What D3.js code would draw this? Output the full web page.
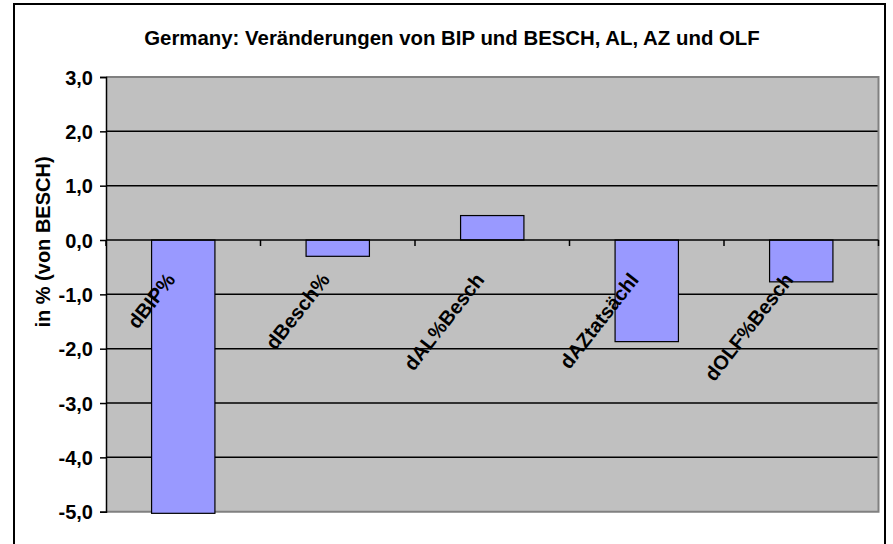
<!DOCTYPE html>
<html>
<head>
<meta charset="utf-8">
<script src="https://cdn.jsdelivr.net/npm/d3@7/dist/d3.min.js"></script>
<style>
  body { margin: 0; background: #fff; }
  svg text { font-family: Arial, "Liberation Sans", sans-serif; font-weight: bold; fill: #000; }
</style>
</head>
<body>
<div id="root"></div>
<script>
// data
const categories = ["dBIP%", "dBesch%", "dAL%Besch", "dAZtatsächl", "dOLF%Besch"]
const values = [-5.03, -0.30, 0.45, -1.87, -0.77]
const yTicks = [3, 2, 1, 0, -1, -2, -3, -4, -5]
const title = "Germany: Veränderungen von BIP und BESCH, AL, AZ und OLF"
const yTitle = "in % (von BESCH)"

const w = 893, h = 544
const plot = {left: 106, right: 878.5, top: 77, bottom: 511.7}

const svg = d3.select("#root").append("svg")
    .attr("width", w)
    .attr("height", h)

// outer chart frame
svg.append("rect")
    .attr("x", 14).attr("y", 4)
    .attr("width", 871).attr("height", 600)
    .attr("fill", "#fff")
    .attr("stroke", "#000")
    .attr("stroke-width", 2)

//scales
const x = d3.scaleBand()
    .domain(categories)
    .range([plot.left, plot.right])

const y = d3.scaleLinear()
    .domain([-5, 3])
    .range([plot.bottom, plot.top])

// plot area
svg.append("rect")
    .attr("x", plot.left).attr("y", plot.top)
    .attr("width", plot.right - plot.left)
    .attr("height", plot.bottom - plot.top)
    .attr("fill", "#c0c0c0")

// gridlines
svg.append("g").selectAll("line")
    .data(yTicks.filter(d => d !== 3 && d !== -5 && d !== 0))
    .enter().append("line")
    .attr("x1", plot.left).attr("x2", plot.right)
    .attr("y1", d => y(d)).attr("y2", d => y(d))
    .attr("stroke", "#000")
    .attr("stroke-width", 1.5)

// plot border (gray)
svg.append("path")
    .attr("d", `M${plot.left},${plot.top}H${plot.right}V${plot.bottom}H${plot.left}`)
    .attr("fill", "none")
    .attr("stroke", "#808080")
    .attr("stroke-width", 2)

// y axis
const yAxis = svg.append("g")
    .attr("transform", `translate(${plot.left},0)`)
    .call(d3.axisLeft(y)
        .tickValues(yTicks)
        .tickSize(6)
        .tickPadding(7)
        .tickFormat(d => d3.format(".1f")(d).replace(".", ",").replace("−", "-")))
yAxis.select(".domain").attr("stroke", "#000").attr("stroke-width", 1.5)
yAxis.selectAll(".tick line").attr("stroke", "#000").attr("stroke-width", 1.5)
yAxis.selectAll(".tick text")
    .attr("font-size", 20)
    .attr("dy", "0.36em")

// bars
const barW = x.bandwidth() * 0.41
svg.append("g").selectAll("rect")
    .data(values)
    .enter().append("rect")
    .attr("x", (d, i) => x(categories[i]) + x.bandwidth() / 2 - barW / 2)
    .attr("y", d => y(Math.max(0, d)))
    .attr("width", barW)
    .attr("height", d => Math.abs(y(d) - y(0)))
    .attr("fill", "#9999ff")
    .attr("stroke", "#000")
    .attr("stroke-width", 1.2)

// category axis at zero
const xAxis = svg.append("g")
    .attr("transform", `translate(0,${y(0)})`)
xAxis.append("line")
    .attr("x1", plot.left).attr("x2", plot.right)
    .attr("stroke", "#000").attr("stroke-width", 1.5)
xAxis.selectAll("line.tick")
    .data(d3.range(categories.length + 1))
    .enter().append("line")
    .attr("class", "tick")
    .attr("x1", i => plot.left + i * x.step())
    .attr("x2", i => plot.left + i * x.step())
    .attr("y1", 0).attr("y2", 6)
    .attr("stroke", "#000").attr("stroke-width", 1.5)

xAxis.selectAll("text")
    .data(categories)
    .enter().append("text")
    .attr("text-anchor", "end")
    .attr("font-size", 20)
    .attr("transform", d => `translate(${x(d) + x.bandwidth() / 2 - 7},40) rotate(-52)`)
    .text(d => d)

// titles
svg.append("text")
    .attr("x", 452).attr("y", 45)
    .attr("text-anchor", "middle")
    .attr("font-size", 20.4)
    .text(title)

svg.append("text")
    .attr("text-anchor", "middle")
    .attr("font-size", 20)
    .attr("transform", "translate(49.5,242) rotate(-90)")
    .text(yTitle)
</script>
</body>
</html>
